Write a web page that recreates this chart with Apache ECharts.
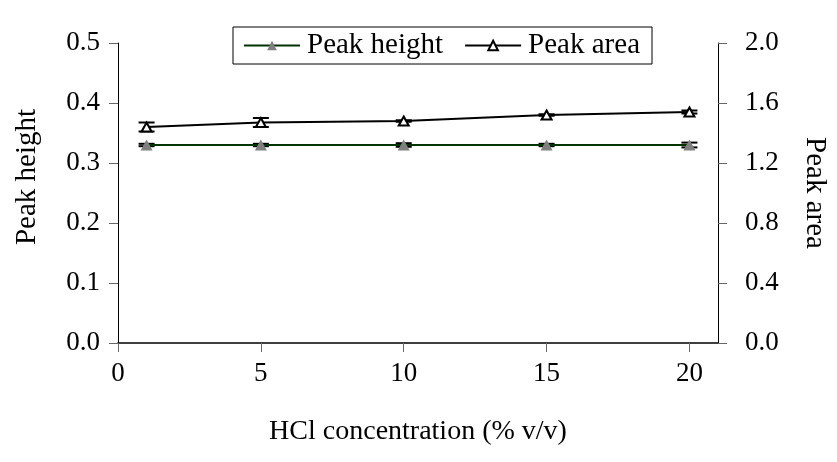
<!DOCTYPE html>
<html>
<head>
<meta charset="utf-8">
<script src="https://cdn.jsdelivr.net/npm/echarts@6/dist/echarts.min.js"></script>
<style>
  html, body { margin: 0; padding: 0; background: #fff; }
  #chart { width: 837px; height: 462px; }
</style>
</head>
<body>
<div id="chart"></div>
<script>
// HCl concentration (% v/v)
const concentrations = [1, 5, 10, 15, 20];
// Peak height (left axis) and its standard deviation
const peakHeight = [0.33, 0.33, 0.33, 0.33, 0.33];
const peakHeightErr = [0.002, 0.002, 0.003, 0.002, 0.004];
// Peak area (right axis) and its standard deviation
const peakArea = [1.44, 1.47, 1.48, 1.52, 1.54];
const peakAreaErr = [0.03, 0.03, 0.005, 0.005, 0.01];
// Axis tick values
const xTicks = [0, 5, 10, 15, 20];

const FONT = "'Liberation Serif', 'Times New Roman', serif";

function pairs(xs, ys) { return xs.map((x, i) => [x, ys[i]]); }
function errRows(xs, ys, es) { return xs.map((x, i) => [x, ys[i] - es[i], ys[i] + es[i]]); }

function errorBarRenderer(params, api) {
  const x = api.value(0);
  const lo = api.coord([x, api.value(1)]);
  const hi = api.coord([x, api.value(2)]);
  const half = 8;
  const style = { stroke: '#000', lineWidth: 2 };
  return {
    type: 'group',
    children: [
      { type: 'line', shape: { x1: lo[0], y1: lo[1], x2: hi[0], y2: hi[1] }, style },
      { type: 'line', shape: { x1: lo[0] - half, y1: lo[1], x2: lo[0] + half, y2: lo[1] }, style },
      { type: 'line', shape: { x1: hi[0] - half, y1: hi[1], x2: hi[0] + half, y2: hi[1] }, style }
    ]
  };
}

const chart = echarts.init(document.getElementById('chart'), null, { renderer: 'canvas' });

const axisTickStyle = { color: '#666', width: 1 };

chart.setOption({
  animation: false,
  backgroundColor: '#fff',
  textStyle: { fontFamily: FONT, color: '#000' },
  grid: { left: 118, right: 113, top: 43, bottom: 119, containLabel: false },
  legend: {
    data: ['Peak height', 'Peak area'],
    left: 233,
    top: 27,
    padding: [4, 12, 4, 10],
    itemGap: 21,
    itemWidth: 56,
    itemHeight: 12,
    borderColor: '#000',
    borderWidth: 1,
    textStyle: { fontFamily: FONT, fontSize: 29, color: '#000', padding: [0, 0, 0, 2] }
  },
  xAxis: {
    type: 'value',
    min: 0,
    max: 21,
    interval: 5,
    name: 'HCl concentration (% v/v)',
    nameLocation: 'middle',
    nameGap: 75,
    nameTextStyle: { fontFamily: FONT, fontSize: 28, color: '#000' },
    axisLine: { show: true, onZero: false, lineStyle: { color: '#000', width: 1.5 } },
    axisTick: { show: true, inside: false, length: 9, customValues: xTicks, lineStyle: axisTickStyle },
    axisLabel: { customValues: xTicks, fontFamily: FONT, fontSize: 27, color: '#000', margin: 17 },
    splitLine: { show: false }
  },
  yAxis: [
    {
      type: 'value',
      position: 'left',
      min: 0,
      max: 0.5,
      interval: 0.1,
      name: 'Peak height',
      nameLocation: 'middle',
      nameGap: 76,
      nameTextStyle: { fontFamily: FONT, fontSize: 29, color: '#000', padding: [0, 0, 0, 32] },
      axisLine: { show: true, lineStyle: { color: '#000', width: 1 } },
      axisTick: { show: true, inside: false, length: 9, lineStyle: axisTickStyle },
      axisLabel: { fontFamily: FONT, fontSize: 27, color: '#000', margin: 18, formatter: v => v.toFixed(1) },
      splitLine: { show: false }
    },
    {
      type: 'value',
      position: 'right',
      min: 0,
      max: 2,
      interval: 0.4,
      name: 'Peak area',
      nameLocation: 'middle',
      nameRotate: -90,
      nameGap: 82,
      nameTextStyle: { fontFamily: FONT, fontSize: 29, color: '#000' },
      axisLine: { show: true, lineStyle: { color: '#000', width: 1 } },
      axisTick: { show: true, inside: false, length: 9, lineStyle: axisTickStyle },
      axisLabel: { fontFamily: FONT, fontSize: 27, color: '#000', margin: 27, formatter: v => v.toFixed(1) },
      splitLine: { show: false }
    }
  ],
  series: [
    {
      name: 'Peak height SD',
      type: 'custom',
      yAxisIndex: 0,
      z: 1,
      renderItem: errorBarRenderer,
      data: errRows(concentrations, peakHeight, peakHeightErr),
      encode: { x: 0, y: [1, 2] },
      silent: true
    },
    {
      name: 'Peak area SD',
      type: 'custom',
      yAxisIndex: 1,
      z: 1,
      renderItem: errorBarRenderer,
      data: errRows(concentrations, peakArea, peakAreaErr),
      encode: { x: 0, y: [1, 2] },
      silent: true
    },
    {
      name: 'Peak height',
      type: 'line',
      yAxisIndex: 0,
      z: 2,
      data: pairs(concentrations, peakHeight),
      symbol: 'triangle',
      symbolSize: [12, 11],
      showAllSymbol: true,
      lineStyle: { color: '#003300', width: 2 },
      itemStyle: { color: '#808080', borderWidth: 0 }
    },
    {
      name: 'Peak area',
      type: 'line',
      yAxisIndex: 1,
      z: 3,
      data: pairs(concentrations, peakArea),
      symbol: 'triangle',
      symbolSize: [10, 9],
      showAllSymbol: true,
      lineStyle: { color: '#000', width: 2 },
      itemStyle: { color: '#fff', borderColor: '#000', borderWidth: 2 }
    }
  ]
});
</script>
</body>
</html>
